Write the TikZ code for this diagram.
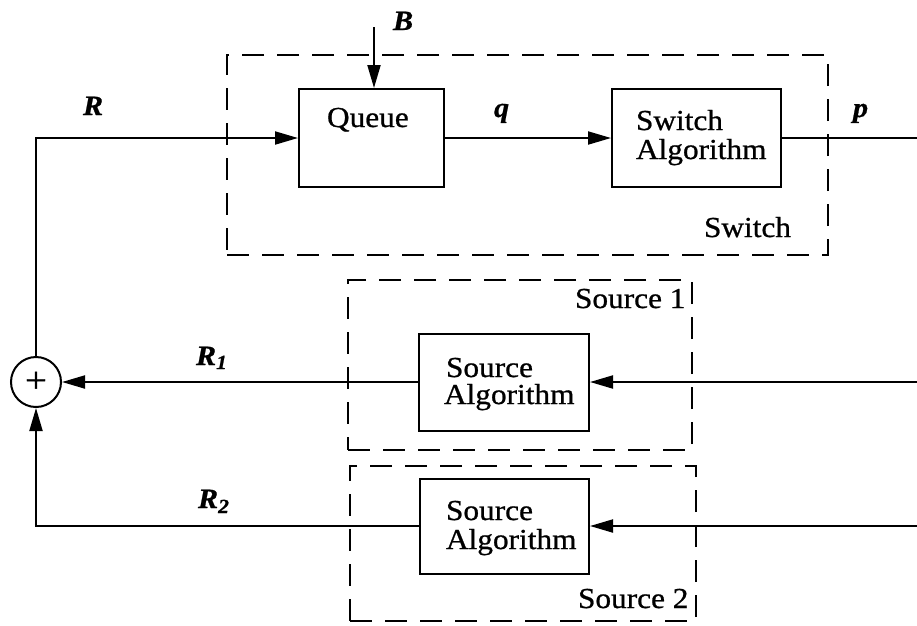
\documentclass[tikz,border=0pt]{standalone}
\usepackage{fontspec}
\setmainfont[FakeStretch=1.08,FakeBold=0.8]{Liberation Serif}
\usetikzlibrary{arrows.meta}
\begin{document}
\begin{tikzpicture}[x=1pt,y=-1pt,
  line width=2pt,
  blk/.style={draw, rectangle, inner sep=0pt},
  grp/.style={draw, rectangle, inner sep=0pt, dash pattern=on 22pt off 13pt},
  lbl/.style={anchor=base west, inner sep=0pt, font=\fontsize{29}{29}\selectfont},
  topline/.style={lbl, text depth=0pt},
  sig/.style={anchor=base west, inner sep=0pt, font=\fontsize{28}{28}\selectfont\bfseries\itshape},
  flow/.style={-{Triangle[length=23pt,width=13pt]}}]

\useasboundingbox (0,0) rectangle (917,625);

% dashed groupings
\node[grp, minimum width=601pt, minimum height=200pt] (switchgrp) at (527.5,155) {};
\node[grp, minimum width=344pt, minimum height=170pt] (src1grp) at (520,365) {};
\node[grp, minimum width=346pt, minimum height=155pt] (src2grp) at (523,543.5) {};

% blocks
\node[blk, minimum width=145pt, minimum height=98pt] (queue) at (371.5,138) {};
\node[blk, minimum width=169pt, minimum height=98pt] (swalg) at (696.5,138) {};
\node[blk, minimum width=170pt, minimum height=97pt] (src1) at (504,382) {};
\node[blk, minimum width=169pt, minimum height=95pt] (src2) at (504.5,526) {};
\node[draw, circle, minimum size=50pt, inner sep=0pt,
      font=\fontsize{36}{36}\selectfont] (sum) at (36,382) {+};

% free ends
\coordinate (bin) at (374,27);
\coordinate (pout) at (917,138);
\coordinate (in1) at (917,382);
\coordinate (in2) at (917,526);

% signal paths
\draw[flow] (sum.north) |- (queue.west);
\draw[flow] (bin) -- (bin |- queue.north);
\draw[flow] (queue.east) -- (swalg.west);
\draw (swalg.east) -- (pout);
\draw[flow] (in1) -- (src1.east);
\draw[flow] (src1.west) -- (sum.east);
\draw[flow] (in2) -- (src2.east);
\draw[flow] (src2.west) -| (sum.south);

% block texts
\node[lbl] (tqueue) at (326,127) {Queue};
\node[topline] (tsw1) at (635,130) {Switch};
\node[lbl] (tsw2) at (635,159) {Algorithm};
\node[topline] (ts1a) at (445,377) {Source};
\node[lbl] (ts1b) at (443,404) {Algorithm};
\node[topline] (ts2a) at (445,520) {Source};
\node[lbl] (ts2b) at (445,549) {Algorithm};

% group captions
\node[lbl] (tswitch) at (703,237) {Switch};
\node[lbl] (tsrc1) at (574,308) {Source 1};
\node[lbl] (tsrc2) at (577,608) {Source 2};

% signal names
\node[sig] (lr) at (82,115) {R};
\node[sig] (lb) at (392,30) {B};
\node[sig] (lq) at (493,117) {q};
\node[sig] (lp) at (852,117) {p};
\node[sig] (lr1) at (195,365) {R\raisebox{-4pt}{\fontsize{20}{20}\selectfont 1}};
\node[sig] (lr2) at (197,508) {R\raisebox{-5pt}{\fontsize{20}{20}\selectfont 2}};
\end{tikzpicture}
\end{document}
